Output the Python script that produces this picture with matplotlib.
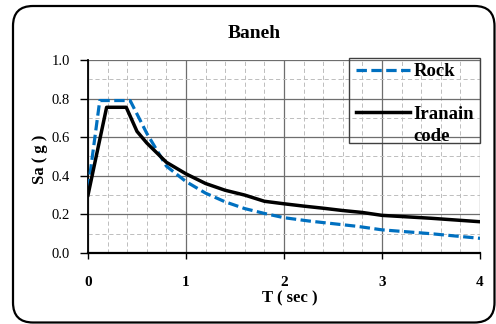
import numpy as np
import matplotlib
matplotlib.use("Agg")
import matplotlib.pyplot as plt
from matplotlib.patches import FancyBboxPatch, Rectangle
from matplotlib.transforms import IdentityTransform
from matplotlib.ticker import MultipleLocator, FormatStrFormatter

# Spectral acceleration, Baneh station
rock_T = [0.0, 0.12, 0.43, 0.6, 0.8, 1.0, 1.2, 1.4, 1.6, 1.8, 2.0, 2.25,
          2.5, 2.75, 3.0, 3.25, 3.5, 3.75, 4.0]
rock_Sa = [0.33, 0.79, 0.79, 0.62, 0.45, 0.37, 0.31, 0.265, 0.23, 0.205,
           0.183, 0.166, 0.152, 0.138, 0.12, 0.11, 0.10, 0.088, 0.076]

code_T = [0.0, 0.19, 0.39, 0.5, 0.6, 0.8, 1.0, 1.2, 1.4, 1.6, 1.8, 2.0,
          2.2, 2.4, 2.6, 2.8, 3.0, 3.5, 4.0]
code_Sa = [0.30, 0.755, 0.755, 0.63, 0.57, 0.47, 0.41, 0.36, 0.325, 0.30,
           0.268, 0.255, 0.243, 0.232, 0.22, 0.21, 0.195, 0.18, 0.162]

title = "Baneh"
labels = ["Rock", "Iranain\ncode"]

plt.rcParams['font.family'] = ['Liberation Serif', 'DejaVu Serif']
plt.rcParams['lines.scale_dashes'] = False

fig = plt.figure(figsize=(4.96, 3.24), dpi=100)
ax = fig.add_axes([88/496, 1-253/324, 392/496, 193/324])

# rounded outer frame
frame = FancyBboxPatch((13, 1.5), 481.5, 316.5, boxstyle="round,pad=0,rounding_size=20",
                       transform=IdentityTransform(), facecolor='none',
                       edgecolor='black', linewidth=1.6)
fig.patches.append(frame)

ax.plot(rock_T, rock_Sa, color='#0070C0', lw=2.3, dashes=(7.5, 3.2),
        solid_capstyle='butt', label=labels[0], zorder=3)
ax.plot(code_T, code_Sa, color='black', lw=2.5, label=labels[1], zorder=4)

ax.set_xlim(0, 4)
ax.set_ylim(0, 1.0)
ax.xaxis.set_major_locator(MultipleLocator(1))
ax.xaxis.set_minor_locator(MultipleLocator(0.2))
ax.yaxis.set_major_locator(MultipleLocator(0.2))
ax.yaxis.set_minor_locator(MultipleLocator(0.1))
ax.yaxis.set_major_formatter(FormatStrFormatter('%.1f'))

ax.grid(which='major', color='#6e6e6e', lw=0.9, ls='-')
ax.grid(which='minor', color='#bdbdbd', lw=0.7, ls=(0, (3, 2)))
ax.set_axisbelow(True)

for s in ['top', 'right']:
    ax.spines[s].set_visible(False)
ax.spines['left'].set_linewidth(1.3)
ax.spines['bottom'].set_linewidth(1.6)

ax.tick_params(axis='y', which='major', direction='out', length=6, width=1,
               pad=7, labelsize=10.5)
ax.tick_params(axis='x', which='major', direction='out', length=4.5, width=1,
               pad=12, labelsize=11)
ax.tick_params(which='minor', length=0)
for t in ax.get_xticklabels():
    t.set_fontweight('bold')

ax.set_xlabel("T ( sec )", fontsize=12, fontweight='bold', va='top')
ax.xaxis.set_label_coords((289.5-88)/392, (253-290.5)/193)
ax.set_ylabel("Sa ( g )", fontsize=12, fontweight='bold', va='center')
ax.yaxis.set_label_coords((39.5-88)/392, (253-159)/193)

fig.text(254/496, 1-34/324, title, ha='center', va='center',
         fontsize=14, fontweight='bold')

leg = ax.legend(loc='upper right', bbox_to_anchor=(1.0, 1.012), borderaxespad=0,
                frameon=False, prop={'weight': 'bold', 'size': 13.5},
                handlelength=2.9, handletextpad=0.2, labelspacing=1.35,
                borderpad=0.3)
leg.get_texts()[1].set_linespacing(1.45)
# put each legend line level with the first line of its label
for col in leg._legend_handle_box.get_children():
    for row in col.get_children():
        row.align = 'top'

# legend box, tight around the two entries
ax.add_patch(Rectangle((0.666, 0.570), 0.334, 0.442, transform=ax.transAxes,
                       facecolor='none', edgecolor='#404040', lw=1.0,
                       clip_on=False, zorder=5))

fig.savefig("out.png", dpi=100)
